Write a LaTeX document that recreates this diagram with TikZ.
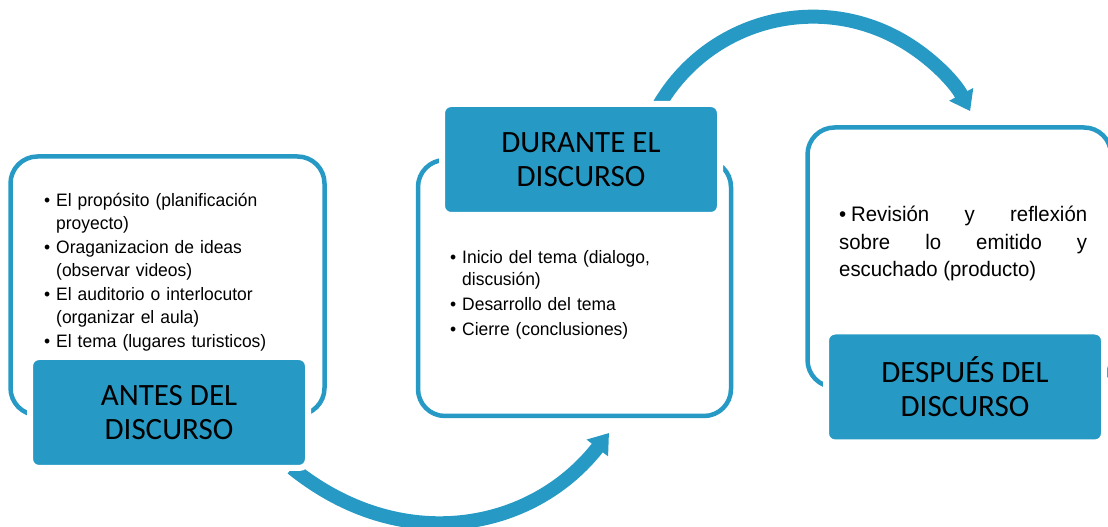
\documentclass[tikz,border=0pt]{standalone}
\usepackage{fontspec}
\setmainfont{Liberation Sans}[FakeStretch=0.97]
\newfontfamily\titulo{Carlito}
\usetikzlibrary{arrows.meta,positioning}
\definecolor{azul}{RGB}{38,154,196}

\tikzset{
  marco/.style={draw=azul, line width=4.5pt, rounded corners=27pt},
  etapa/.style={fill=azul, draw=white, line width=6pt, rounded corners=9pt,
    minimum width=278pt, minimum height=111pt, outer sep=0pt, inner sep=0pt,
    align=center, font=\titulo\fontsize{31}{34}\selectfont},
  lista/.style={anchor=base west, inner sep=0pt, align=left,
    font=\fontsize{18}{22.5}\selectfont},
  flecha/.style={draw=azul, line width=14pt, -{Triangle[width=26pt,length=19pt]}}
}
% one bullet item; items are separated by \par
\newcommand{\vineta}[1]{\hangindent=12pt\hangafter=1\noindent\makebox[12pt][l]{\textbullet}#1}

\begin{document}
\begin{tikzpicture}[x=1pt,y=1pt]
\useasboundingbox (0,0) rectangle (1108,527);
\clip (0,0) rectangle (1108,527);

% marcos
\node[marco, minimum width=314pt, minimum height=258.5pt] (antesmarco) at (167.5,241.25) {};
\node[marco, minimum width=313pt, minimum height=256pt] (durantemarco) at (574.5,239) {};
\node[marco, minimum width=303.5pt, minimum height=259.5pt] (despuesmarco) at (959.25,269.75) {};

% flechas
\coordinate (a1) at (292,59);
\coordinate (a2) at (609,94);
\draw[flecha] (a1) .. controls (401,-29) and (532,-4.5) .. (a2);
\coordinate (b1) at (658.8,421.3);
\draw[flecha] (b1) arc[start angle=150, end angle=28, radius=178];

% etapas
\node[etapa] (antes) at (169,114.5) {ANTES DEL\\DISCURSO};
\node[etapa] (durante) at (581,367.5) {DURANTE EL\\DISCURSO};
\node[etapa] (despues) at (965,140) {DESPUÉS DEL\\DISCURSO};

% textos
\node[lista, text width=240pt] (antestxt) at (44,320.3) {\setlength{\parskip}{2pt}%
  \vineta{El propósito (planificación\newline proyecto)}\par
  \vineta{Oraganizacion de ideas\newline (observar videos)}\par
  \vineta{El auditorio o interlocutor\newline (organizar el aula)}\par
  \vineta{El tema (lugares turisticos)}};
\node[lista, text width=240pt] (durantetxt) at (450,263.7) {\setlength{\parskip}{2.5pt}%
  \vineta{Inicio del tema (dialogo,\newline discusión)}\par
  \vineta{Desarrollo del tema}\par
  \vineta{Cierre (conclusiones)}};
\node[lista, text width=248pt, align=justify, font=\fontsize{21}{27.5}\selectfont] (despuestxt) at (839,305.3)
  {\vineta{Revisión y reflexión\linebreak sobre lo emitido y\linebreak escuchado (producto)}};
\end{tikzpicture}
\end{document}
